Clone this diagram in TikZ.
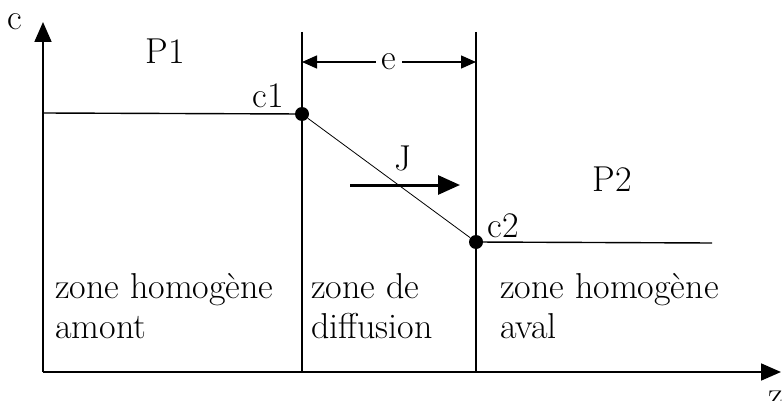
\documentclass[tikz,border=0pt]{standalone}
\usepackage{fontspec}
\usetikzlibrary{arrows.meta, positioning}

\begin{document}
\begin{tikzpicture}[
    x=1pt, y=1pt,
    axis/.style={line width=1.8pt, -{Triangle[length=20pt, width=17pt]}},
    wall/.style={line width=1.4pt},
    profile/.style={line width=1.4pt},
    slope/.style={line width=0.8pt},
    dim/.style={line width=1.4pt, {Triangle[length=15pt, width=13pt]}-{Triangle[length=15pt, width=13pt]}},
    flux/.style={line width=3pt, -{Triangle[length=22pt, width=19pt]}},
    point/.style={circle, fill, inner sep=0pt, minimum size=14pt},
    txt/.style={font=\fontsize{36}{40}\selectfont, inner sep=0pt},
    zone/.style={txt, align=left, anchor=north west}
]
\useasboundingbox (0,0) rectangle (782,400);

% axes
\coordinate (origin) at (43,28);
\coordinate (ytop) at (43,378);
\coordinate (xend) at (781,28);
\draw[axis] (origin) -- (ytop);
\draw[axis] (origin) -- (xend);
\node[txt] (cname) at (15,378) {c};
\node[txt] (zname) at (776,1) {z};

% walls of the diffusion zone
\coordinate (wallAtop) at (302,368);
\coordinate (wallAbot) at (302,28);
\coordinate (wallBtop) at (476,368);
\coordinate (wallBbot) at (476,28);
\draw[wall] (wallAtop) -- (wallAbot);
\draw[wall] (wallBtop) -- (wallBbot);

% concentration profile
\node[point] (c1) at (302,286) {};
\node[point] (c2) at (476,158) {};
\coordinate (upstream) at (43,287);
\coordinate (downstream) at (712,157);
\draw[profile] (upstream) -- (c1);
\draw[slope] (c1) -- (c2);
\draw[profile] (c2) -- (downstream);
\node[txt] (c1name) at (268,304) {c1};
\node[txt] (c2name) at (503,174) {c2};

% thickness e
\coordinate (eleft) at (302,338);
\coordinate (eright) at (476,338);
\draw[dim] (eleft) -- node[txt, fill=white, inner xsep=6pt] (ename) {e} (eright);

% flux J
\coordinate (jstart) at (350,215);
\coordinate (jend) at (460,215);
\draw[flux] (jstart) -- (jend);
\node[txt, above=14pt of jstart, xshift=53pt] (jname) {J};

% phases
\node[txt] (p1) at (165,349) {P1};
\node[txt] (p2) at (612,221) {P2};

% zones
\node[zone] (amont) at (55,127) {zone homogène\\amont};
\node[zone] (diffusion) at (311,127) {zone de\\diffusion};
\node[zone] (aval) at (500,127) {zone homogène\\aval};
\end{tikzpicture}
\end{document}
